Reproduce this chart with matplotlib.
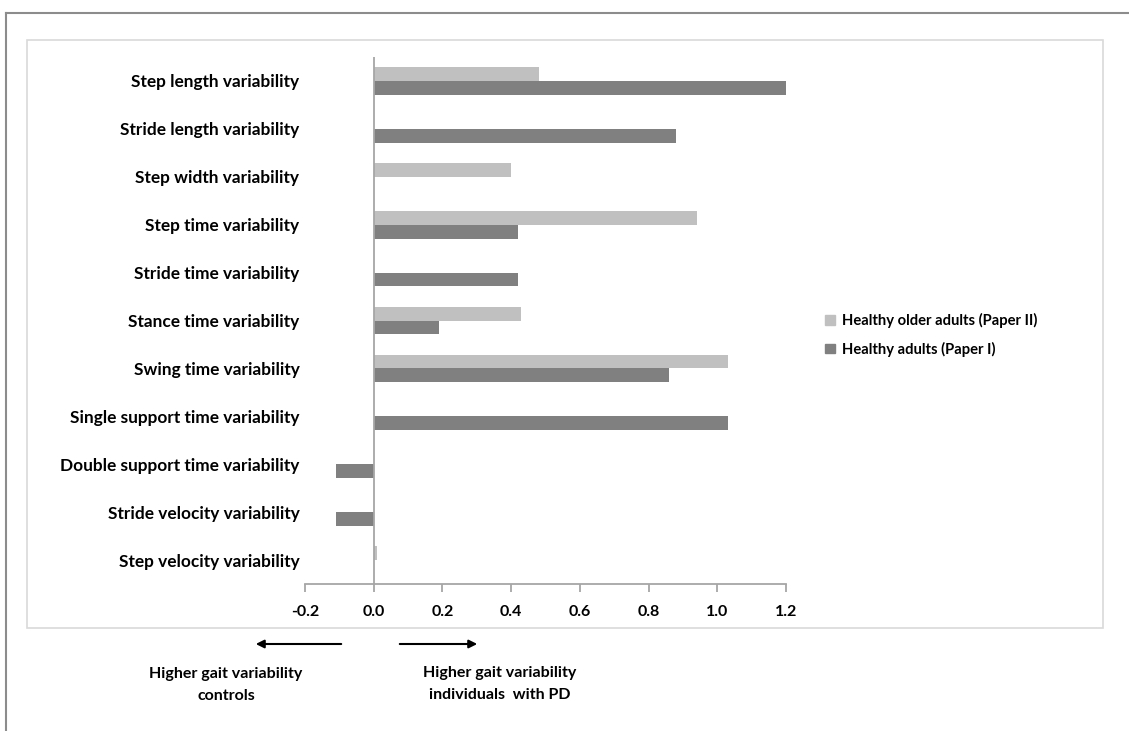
import matplotlib
matplotlib.use("Agg")
import matplotlib.pyplot as plt
from matplotlib.patches import Rectangle, FancyArrowPatch
from matplotlib.lines import Line2D

categories = [
    "Step length variability",
    "Stride length variability",
    "Step width variability",
    "Step time variability",
    "Stride time variability",
    "Stance time variability",
    "Swing time variability",
    "Single support time variability",
    "Double support time variability",
    "Stride velocity variability",
    "Step velocity variability",
]
# None = no bar for that category
older_adults = [0.48, None, 0.40, 0.94, None, 0.43, 1.03, None, None, None, 0.01]
healthy_adults = [1.20, 0.88, None, 0.42, 0.42, 0.19, 0.86, 1.03, -0.11, -0.11, None]
xticks = [-0.2, 0.0, 0.2, 0.4, 0.6, 0.8, 1.0, 1.2]
series_names = ["Healthy older adults (Paper II)", "Healthy adults (Paper I)"]

light = "#c0c0c0"
dark = "#808080"
axis_col = "#a6a6a6"

plt.rcParams["font.family"] = ["Lato", "DejaVu Sans"]
plt.rcParams["font.weight"] = "bold"

W, H = 1129, 731
fig = plt.figure(figsize=(W / 100, H / 100), dpi=100)

def fx(px):
    return px / W

def fy(py):
    return 1 - py / H

# outer frame lines and inner chart box
fig.add_artist(Line2D([fx(6), 1], [fy(13), fy(13)], color="#8c8c8c", lw=1.5))
fig.add_artist(Line2D([fx(6), fx(6)], [fy(13), 0], color="#8c8c8c", lw=1.5))
fig.add_artist(Rectangle((fx(27), fy(628)), fx(1103 - 27), (628 - 40) / H,
                         fill=False, edgecolor="#d9d9d9", lw=1.2))

ax = fig.add_axes([fx(305), fy(584), fx(786 - 305), (584 - 57) / H])

bh = 0.29
for i, cat in enumerate(categories):
    if older_adults[i] is not None:
        ax.barh(i - bh / 2, older_adults[i], height=bh, color=light)
    if healthy_adults[i] is not None:
        ax.barh(i + bh / 2, healthy_adults[i], height=bh, color=dark)

ax.set_xlim(-0.2, 1.2)
ax.set_ylim(len(categories) - 0.5, -0.5)
ax.axvline(0, color=axis_col, lw=1.3)

for s in ["top", "right", "left"]:
    ax.spines[s].set_visible(False)
ax.spines["bottom"].set_color(axis_col)
ax.spines["bottom"].set_linewidth(1.3)

ax.set_xticks(xticks)
ax.set_xticklabels([f"{v:.1f}" for v in xticks], fontsize=11.5, fontweight="bold")
ax.tick_params(axis="x", direction="out", length=6, color=axis_col, width=1.3, pad=9)
ax.set_yticks(range(len(categories)))
ax.set_yticklabels(categories, fontsize=12.4, fontweight="bold")
ax.tick_params(axis="y", length=0, pad=4)

# legend
handles = [Rectangle((0, 0), 1, 1, color=light), Rectangle((0, 0), 1, 1, color=dark)]
fig.legend(handles, series_names, loc="center left",
           bbox_to_anchor=(fx(812), fy(335)), frameon=False,
           handlelength=0.65, handleheight=0.65, handletextpad=0.5,
           labelspacing=0.9, prop={"size": 10.6, "weight": "bold"})

# direction arrows and captions
ap = dict(arrowstyle="-|>", color="black", lw=1.5, mutation_scale=12)
fig.add_artist(FancyArrowPatch((fx(344), fy(644)), (fx(253), fy(644)),
                               transform=fig.transFigure, **ap))
fig.add_artist(FancyArrowPatch((fx(397), fy(644)), (fx(480), fy(644)),
                               transform=fig.transFigure, **ap))
fig.text(fx(226), fy(685), "Higher gait variability\ncontrols", ha="center", va="center",
         fontsize=11.5, fontweight="bold", linespacing=1.65)
fig.text(fx(500), fy(684), "Higher gait variability\nindividuals  with PD", ha="center",
         va="center", fontsize=11.5, fontweight="bold", linespacing=1.65)

fig.savefig("out.png", dpi=100)
